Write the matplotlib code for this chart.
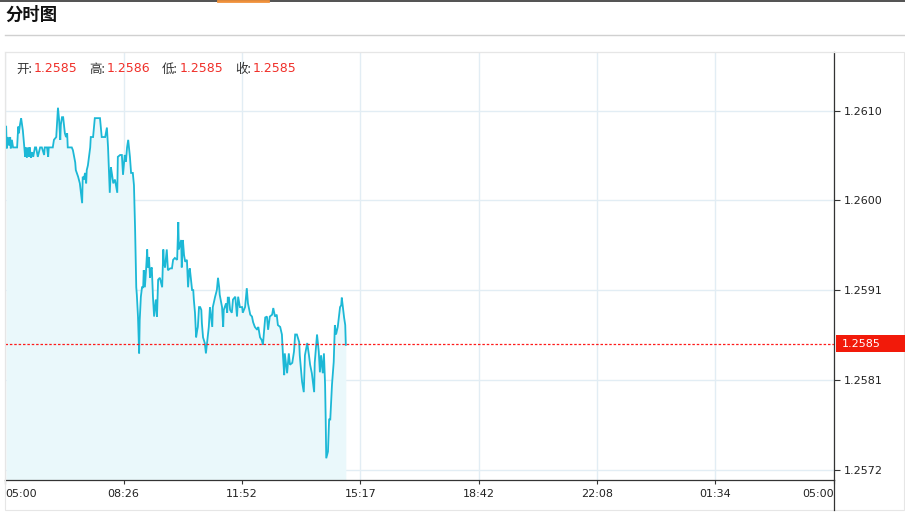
import matplotlib
matplotlib.use('Agg')
import matplotlib.pyplot as plt
import matplotlib.transforms as mtransforms
from matplotlib.patches import Rectangle
from matplotlib.lines import Line2D

plt.rcParams['font.family'] = ['DejaVu Sans', 'Noto Sans CJK SC']

# ---------------- data ----------------
title = '分时图'
ohlc_labels = ['开', '高', '低', '收']
ohlc_values = [1.2585, 1.2586, 1.2585, 1.2585]
ref_price = 1.2585

# minutes since 05:00
minutes = [
    2, 3, 5, 7, 9, 10, 12, 14, 17, 21, 23, 24, 26, 28, 30, 31, 35, 36, 38, 40,
    42, 43, 45, 47, 49, 52, 54, 57, 61, 64, 68, 69, 73, 75, 76, 80, 83, 85, 89, 92,
    94, 96, 97, 99, 101, 104, 106, 108, 109, 113, 116, 118, 122, 123, 127, 130, 134, 135, 137, 139,
    141, 142, 144, 148, 149, 153, 156, 162, 165, 168, 172, 174, 177, 179, 182, 184, 186, 188, 191, 195,
    196, 200, 203, 205, 208, 210, 212, 214, 217, 219, 222, 224,
    226, 228, 229, 231, 233, 234, 236, 238, 240, 241, 243, 245, 247, 248, 250, 252, 254, 255, 257, 259,
    261, 262, 264, 266, 269, 271, 273, 275, 276, 278, 280, 281, 283, 287, 290, 292, 295, 299, 301, 302,
    304, 306, 307, 309, 311, 313, 316, 318, 320, 321, 323, 325, 327, 328, 330, 332, 334, 335, 337, 339,
    341, 342, 344, 347, 349, 353, 354, 356, 360, 361, 365, 368, 370, 372, 373, 377, 379, 380, 384, 386,
    387, 389, 391, 394, 396, 400, 403, 405, 408, 412, 413, 417, 420, 422, 426, 429, 431, 434, 438, 440,
    443, 446, 448, 452, 455, 457, 460, 464, 466, 469, 472, 474, 478, 481, 483, 485, 486, 490, 493, 495,
    499, 502, 504, 507, 511, 512, 516, 519, 521, 525, 528, 530, 533, 537, 538, 542, 545, 547, 549, 552,
    554, 556, 557, 558, 561, 563, 565, 568, 571, 573, 575, 578, 582, 584, 585, 589, 591, 592,
]
prices = [
    1.26080, 1.26057, 1.26069, 1.26060, 1.26069, 1.26057, 1.26066, 1.26058, 1.26058, 1.26058,
    1.26080, 1.26073, 1.26082, 1.26089, 1.26080, 1.26076, 1.26048, 1.26058, 1.26047, 1.26058,
    1.26048, 1.26058, 1.26047, 1.26053, 1.26048, 1.26058, 1.26058, 1.26048, 1.26058, 1.26058,
    1.26050, 1.26058, 1.26058, 1.26048, 1.26058, 1.26058, 1.26058, 1.26066, 1.26069, 1.26100,
    1.26087, 1.26066, 1.26082, 1.26090, 1.26090, 1.26073, 1.26069, 1.26073, 1.26058, 1.26058,
    1.26058, 1.26055, 1.26042, 1.26034, 1.26027, 1.26020, 1.25999, 1.26027, 1.26024, 1.26031,
    1.26020, 1.26034, 1.26039, 1.26058, 1.26069, 1.26069, 1.26089, 1.26089, 1.26089, 1.26069,
    1.26069, 1.26069, 1.26079, 1.26058, 1.26010, 1.26037, 1.26029, 1.26020, 1.26024, 1.26010,
    1.26048, 1.26050, 1.26050, 1.26029, 1.26050, 1.26043, 1.26058, 1.26066, 1.26048, 1.26031,
    1.26031, 1.26018,
    1.25971, 1.25910, 1.25902, 1.25879, 1.25840, 1.25875, 1.25900, 1.25910, 1.25910, 1.25928,
    1.25910, 1.25928, 1.25950, 1.25931, 1.25942, 1.25920, 1.25930, 1.25931, 1.25900, 1.25879,
    1.25891, 1.25897, 1.25879, 1.25918, 1.25920, 1.25915, 1.25910, 1.25950, 1.25937, 1.25931,
    1.25944, 1.25950, 1.25928, 1.25930, 1.25930, 1.25939, 1.25941, 1.25939, 1.25979, 1.25950,
    1.25955, 1.25960, 1.25931, 1.25960, 1.25944, 1.25937, 1.25939, 1.25910, 1.25928, 1.25930,
    1.25918, 1.25907, 1.25907, 1.25897, 1.25883, 1.25857, 1.25865, 1.25868, 1.25889, 1.25889,
    1.25886, 1.25872, 1.25857, 1.25851, 1.25840, 1.25862, 1.25868, 1.25889, 1.25868, 1.25889,
    1.25900, 1.25907, 1.25920, 1.25910, 1.25902, 1.25889, 1.25868, 1.25886, 1.25893, 1.25883,
    1.25899, 1.25899, 1.25886, 1.25883, 1.25897, 1.25900, 1.25879, 1.25900, 1.25889, 1.25889,
    1.25883, 1.25889, 1.25909, 1.25893, 1.25881, 1.25879, 1.25873, 1.25868, 1.25865, 1.25868,
    1.25857, 1.25854, 1.25849, 1.25878, 1.25879, 1.25865, 1.25879, 1.25881, 1.25888, 1.25879,
    1.25881, 1.25870, 1.25868, 1.25860, 1.25836, 1.25817, 1.25840, 1.25819, 1.25840, 1.25828,
    1.25830, 1.25842, 1.25860, 1.25860, 1.25852, 1.25838, 1.25810, 1.25799, 1.25838, 1.25851,
    1.25838, 1.25828, 1.25819, 1.25799, 1.25830, 1.25860, 1.25842, 1.25820, 1.25838, 1.25819,
    1.25840, 1.25807, 1.25772, 1.25729, 1.25736, 1.25770, 1.25770, 1.25807, 1.25831, 1.25870,
    1.25860, 1.25868, 1.25889, 1.25891, 1.25899, 1.25878, 1.25870, 1.25849,
]

x_tick_minutes = [0, 206, 411, 617, 823, 1029, 1234, 1440]
x_tick_labels = ['05:00', '08:26', '11:52', '15:17', '18:42', '22:08', '01:34', '05:00']
y_ticks = [1.25717, 1.25812, 1.25907, 1.26002, 1.26097]
y_range = (1.25706, 1.26159)

# ---------------- layout ----------------
W, H = 905, 513
fig = plt.figure(figsize=(W / 100, H / 100), dpi=100)
fig.patch.set_facecolor('white')


def fx(px):
    return px / W


def fy(py):
    return 1 - py / H


L, R, T, B = 5, 834, 52, 480
ax = fig.add_axes([fx(L), fy(B), (R - L) / W, (B - T) / H])
ax.set_xlim(x_tick_minutes[0], x_tick_minutes[-1])
ax.set_ylim(*y_range)

line_color = '#1cb8d6'
ax.fill_between(minutes, prices, ax.get_ylim()[0], color='#eaf8fb', lw=0, zorder=1)
ax.plot(minutes, prices, color=line_color, lw=1.3, zorder=3, solid_joinstyle='miter')

ax.axhline(ref_price, color='#ff1a1a', lw=0.9, linestyle=(0, (2, 1.5)), zorder=4)

ax.set_xticks(x_tick_minutes)
ax.set_xticklabels(x_tick_labels)
ax.set_yticks(y_ticks)
ax.set_yticklabels([f'{v:.4f}' for v in y_ticks])
ax.yaxis.tick_right()
ax.grid(True, color='#e2edf4', lw=1, zorder=0)
ax.set_axisbelow(True)
ax.tick_params(axis='y', direction='out', length=4, width=0.8, color='#333333',
               labelsize=8, labelcolor='#222222', pad=3)
ax.tick_params(axis='x', direction='out', length=3, width=0.8, color='#333333',
               labelsize=8, labelcolor='#222222', pad=3.5)
xt = ax.get_xticklabels()
xt[0].set_ha('left')
xt[-1].set_ha('right')

for side in ['left', 'top']:
    ax.spines[side].set_color('#e6e6e6')
    ax.spines[side].set_linewidth(0.8)
for side in ['right', 'bottom']:
    ax.spines[side].set_color('#333333')
    ax.spines[side].set_linewidth(0.9)

# outer light box
fig.add_artist(Rectangle((fx(5), fy(510)), fx(904) - fx(5), fy(52) - fy(510),
                         transform=fig.transFigure, fill=False, ec='#e6e6e6', lw=0.8))
# right axis extension
fig.add_artist(Line2D([fx(R), fx(R)], [fy(B), fy(510)], transform=fig.transFigure,
                      color='#333333', lw=0.9))

# current price label
blend = mtransforms.blended_transform_factory(fig.transFigure, ax.transData)
box_h = 17 / (B - T) * (y_range[1] - y_range[0])
fig.add_artist(Rectangle((fx(836), ref_price - box_h / 2), fx(905) - fx(836), box_h,
                         transform=blend, fc='#f21a0a', ec='none', zorder=5))
fig.text(fx(842), ref_price, f'{ref_price:.4f}', transform=blend, color='white',
         fontsize=8, va='center', ha='left', zorder=6)

# header
fig.add_artist(Line2D([0, 1], [fy(0.5), fy(0.5)], transform=fig.transFigure,
                      color='#333333', lw=1.2))
fig.add_artist(Line2D([fx(218), fx(268)], [fy(1), fy(1)], transform=fig.transFigure,
                      color='#f0903a', lw=2))
fig.text(fx(5), fy(15), title, fontsize=12.5, fontweight='bold', color='#111111',
         va='center', ha='left', family=['Noto Sans CJK SC', 'DejaVu Sans'])
fig.add_artist(Line2D([fx(5), fx(905)], [fy(35), fy(35)], transform=fig.transFigure,
                      color='#d0d0d0', lw=1))

# OHLC legend
label_x = [16, 89, 162, 235]
for lab, val, px in zip(ohlc_labels, ohlc_values, label_x):
    fig.text(fx(px), fy(69), lab + ':', fontsize=9, color='#333333', va='center', ha='left',
             family=['Noto Sans CJK SC', 'DejaVu Sans'])
    fig.text(fx(px + 18), fy(69), f'{val:.4f}', fontsize=9, color='#f0302a', va='center',
             ha='left')

fig.savefig('out.png', dpi=100, facecolor='white')
